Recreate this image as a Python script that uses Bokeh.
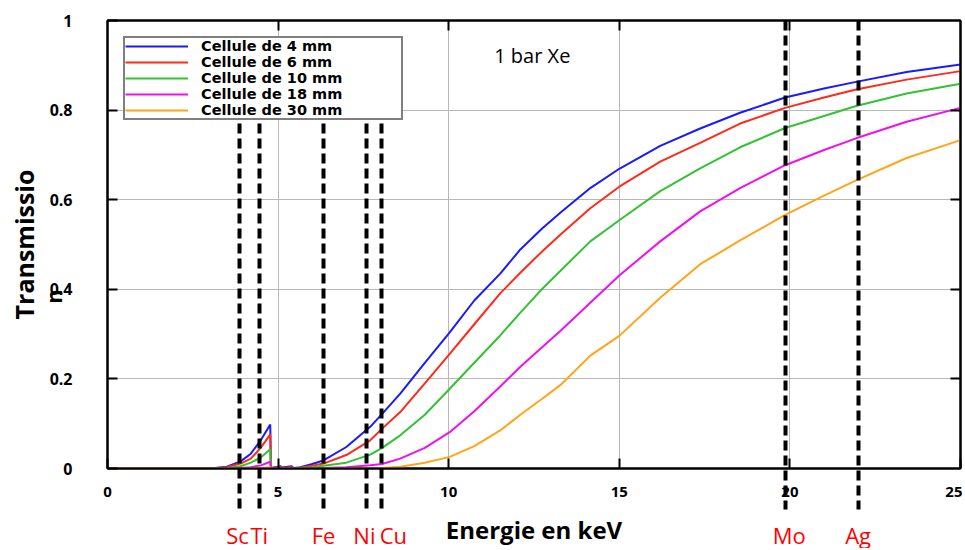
from math import pi
from bokeh.plotting import figure
from bokeh.models import (Range1d, LinearAxis, Legend, LegendItem, Label, FixedTicker)
from bokeh.embed import file_html
from bokeh.resources import INLINE

# ---- data ----
energy = [0, 3.0, 3.5, 3.9, 4.2, 4.5, 4.77, 4.79, 5.08, 5.1, 5.4, 5.45, 5.6, 6.0, 6.33,
          7.0, 7.7, 8.05, 8.58, 9.3, 10.03, 10.75, 11.51, 12.1, 12.73, 13.27, 14.15,
          15.0, 16.2, 17.37, 18.54, 19.86, 21.0, 21.94, 23.42, 25.0]
t_4mm = [0, 0, 0.004, 0.016, 0.033, 0.064, 0.098, 0.001, 0.005, 0.002, 0.005, 0.001,
         0.002, 0.010, 0.018, 0.048, 0.093, 0.122, 0.167, 0.236, 0.304, 0.375, 0.435,
         0.489, 0.535, 0.571, 0.626, 0.669, 0.720, 0.759, 0.794, 0.828, 0.848, 0.863,
         0.885, 0.902]
t_6mm = [0, 0, 0.003, 0.011, 0.022, 0.047, 0.076, 0.001, 0.003, 0.001, 0.003, 0.0,
         0.001, 0.006, 0.011, 0.03, 0.063, 0.089, 0.126, 0.19, 0.256, 0.322, 0.391,
         0.437, 0.484, 0.522, 0.581, 0.629, 0.685, 0.727, 0.770, 0.805, 0.828, 0.846,
         0.868, 0.887]
t_10mm = [0, 0, 0.001, 0.005, 0.013, 0.025, 0.043, 0.0, 0.001, 0.0, 0.001, 0.0,
          0.001, 0.003, 0.006, 0.013, 0.031, 0.046, 0.074, 0.12, 0.178, 0.236, 0.297,
          0.348, 0.4, 0.441, 0.507, 0.554, 0.619, 0.670, 0.717, 0.760, 0.787, 0.809,
          0.837, 0.859]
t_18mm = [0, 0, 0, 0.001, 0.003, 0.007, 0.015, 0.0, 0, 0, 0, 0,
          0, 0.0, 0.001, 0.003, 0.007, 0.010, 0.022, 0.046, 0.081, 0.128, 0.183,
          0.227, 0.27, 0.307, 0.370, 0.431, 0.507, 0.574, 0.626, 0.677, 0.711, 0.737,
          0.774, 0.805]
t_30mm = [0, 0, 0, 0, 0, 0.001, 0.003, 0.0, 0, 0, 0, 0,
          0, 0, 0, 0, 0.0, 0.001, 0.004, 0.013, 0.026, 0.05, 0.085,
          0.12, 0.155, 0.186, 0.252, 0.296, 0.381, 0.456, 0.509, 0.566, 0.609, 0.643,
          0.693, 0.733]

series_names = ["Cellule de 4 mm", "Cellule de 6 mm", "Cellule de 10 mm",
                "Cellule de 18 mm", "Cellule de 30 mm"]
series_values = [t_4mm, t_6mm, t_10mm, t_18mm, t_30mm]
series_colors = ["#1a1aff", "#ff2a1a", "#33c233", "#ee11ee", "#ffa51a"]

# element lines (keV): the first five start under the legend, Mo/Ag from the top
low_elements = ["Sc", "Ti", "Fe", "Ni", "Cu"]
low_energy = [3.87, 4.45, 6.33, 7.59, 8.03]
high_elements = ["Mo", "Ag"]
high_energy = [19.87, 22.0]
element_names = low_elements + high_elements
element_label_energy = [3.81, 4.45, 6.33, 7.53, 8.38, 19.98, 22.0]

x_ticks = [0, 5, 10, 15, 20, 25]
y_ticks = [0, 0.2, 0.4, 0.6, 0.8, 1.0]
y_tick_labels = ["0", "0.2", "0.4", "0.6", "0.8", "1"]

FONT = "Open Sans"

p = figure(width=962, height=548, x_range=Range1d(0, 25), y_range=Range1d(0, 1),
           output_backend="svg", toolbar_location=None,
           min_border_left=107, min_border_right=2, min_border_top=20,
           min_border_bottom=78)
p.background_fill_color = "white"
p.border_fill_color = "white"
p.outline_line_color = "black"
p.outline_line_width = 2

# grids
p.xgrid.ticker = FixedTicker(ticks=x_ticks)
p.ygrid.ticker = FixedTicker(ticks=y_ticks)
for g in (p.xgrid, p.ygrid):
    g.grid_line_color = "#b8b8b8"
    g.grid_line_width = 1


def base_axis(ax, size):
    ax.axis_line_color = "black"
    ax.axis_line_width = 2
    ax.major_tick_in = 10
    ax.major_tick_out = 0
    ax.major_tick_line_width = 2
    ax.major_tick_line_color = "black"
    ax.minor_tick_line_color = None
    ax.major_label_text_font = FONT
    ax.major_label_text_font_style = "bold"
    ax.major_label_text_font_size = size
    ax.major_label_text_color = "black"


# bottom numeric axis; its minor ticks are the Sc..Cu dashed lines
xa = p.xaxis[0]
base_axis(xa, "15px")
xa.ticker = FixedTicker(ticks=x_ticks, minor_ticks=low_energy)
xa.minor_tick_line_color = "black"
xa.minor_tick_line_width = 4
xa.minor_tick_line_dash = "10 5"
xa.minor_tick_in = 352
xa.minor_tick_out = 40
xa.major_label_standoff = -22

# second bottom axis: element names + axis title
ea = LinearAxis(ticker=FixedTicker(ticks=element_label_energy),
                major_label_overrides={e: n for e, n in zip(element_label_energy, element_names)})
ea.axis_line_color = None
ea.major_tick_line_color = None
ea.minor_tick_line_color = None
ea.major_label_text_font = FONT
ea.major_label_text_font_size = "22px"
ea.major_label_text_color = "#ff0000"
ea.major_label_standoff = 14
ea.axis_label = "Energie en keV"
ea.axis_label_text_font = FONT
ea.axis_label_text_font_style = "bold"
ea.axis_label_text_font_size = "24px"
ea.axis_label_text_color = "black"
ea.axis_label_standoff = -40
p.add_layout(ea, "below")

# left numeric axis
ya = p.yaxis[0]
base_axis(ya, "16px")
ya.ticker = FixedTicker(ticks=y_ticks)
ya.major_label_overrides = {t: s for t, s in zip(y_ticks, y_tick_labels)}
ya.major_label_standoff = 35
ya.major_label_text_align = "center"

# outer left axis: stray wrapped "n" and the title
ca = LinearAxis(ticker=FixedTicker(ticks=[0.4]), major_label_overrides={0.4: "n"})
ca.axis_line_color = None
ca.major_tick_line_color = None
ca.minor_tick_line_color = None
ca.major_label_orientation = pi / 2
ca.major_label_text_font = FONT
ca.major_label_text_font_style = "bold"
ca.major_label_text_font_size = "22px"
ca.major_label_text_color = "black"
ca.major_label_standoff = -13
ca.axis_label = "Transmissio"
ca.axis_label_text_font = FONT
ca.axis_label_text_font_style = "bold"
ca.axis_label_text_font_size = "25px"
ca.axis_label_text_color = "black"
ca.axis_label_standoff = -20
p.add_layout(ca, "left")

# top: short inward ticks, and Mo/Ag dashed lines
t2 = LinearAxis(ticker=FixedTicker(ticks=[], minor_ticks=x_ticks[1:-1]))
t2.axis_line_color = "black"
t2.axis_line_width = 2
t2.major_label_standoff = 0
t2.minor_tick_in = 10
t2.minor_tick_out = 0
t2.minor_tick_line_width = 2
t2.minor_tick_line_color = "black"
p.add_layout(t2, "above")

t1 = LinearAxis(ticker=FixedTicker(ticks=[], minor_ticks=high_energy))
t1.axis_line_color = None
t1.major_label_standoff = 0
t1.minor_tick_in = 489
t1.minor_tick_out = 0
t1.minor_tick_line_width = 4
t1.minor_tick_line_color = "black"
t1.minor_tick_line_dash = "10 5"
p.add_layout(t1, "above")

# right: short inward ticks
ra = LinearAxis(ticker=FixedTicker(ticks=[], minor_ticks=y_ticks[1:-1]))
ra.axis_line_color = "black"
ra.axis_line_width = 2
ra.major_label_standoff = 0
ra.minor_tick_in = 10
ra.minor_tick_out = 0
ra.minor_tick_line_width = 2
ra.minor_tick_line_color = "black"
p.add_layout(ra, "right")

# curves
items = []
for name, vals, col in zip(series_names, series_values, series_colors):
    r = p.line(energy, vals, line_color=col, line_width=2)
    items.append(LegendItem(label=name, renderers=[r]))

p.add_layout(Label(x=12.45, y=0.922, text="1 bar Xe", text_font=FONT,
                   text_font_size="20px", text_color="black", text_align="center",
                   text_baseline="middle"))

legend = Legend(items=items, location="top_left")
legend.label_text_font = "DejaVu Sans"
legend.label_text_font_style = "bold"
legend.label_text_font_size = "14.5px"
legend.label_text_color = "black"
legend.label_height = 14
legend.glyph_height = 14
legend.glyph_width = 63
legend.label_standoff = 13
legend.label_width = 200
legend.spacing = 0
legend.padding = 0
legend.margin = 16
legend.border_line_color = "black"
legend.border_line_width = 2
legend.background_fill_color = "white"
legend.background_fill_alpha = 1.0
p.add_layout(legend)

open("out.html", "w").write(file_html(p, INLINE))
